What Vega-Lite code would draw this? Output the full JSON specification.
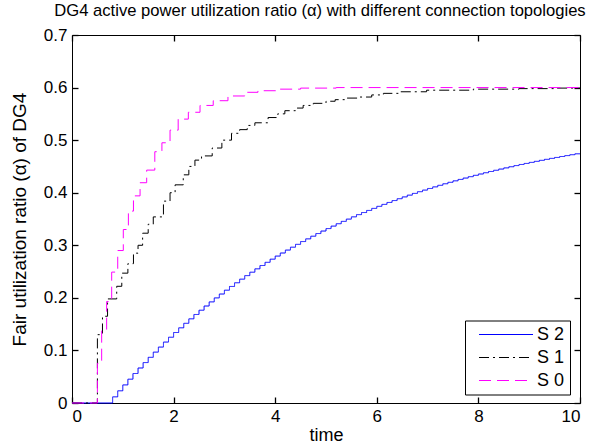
{
"$schema": "https://vega.github.io/schema/vega-lite/v6.json",
"width": 508, "height": 368,
"autosize": {"type": "none"},
"padding": {"left": 72, "top": 35, "right": 14, "bottom": 43},
"background": "white",
"config": {
  "font": "Liberation Sans",
  "view": {"stroke": "black", "strokeWidth": 1},
  "axis": {"grid": false, "domain": false, "labelColor": "black", "labelFontSize": 17, "labelFont": "Liberation Sans", "titleFont": "Liberation Sans", "titleFontSize": 18, "titleFontWeight": "normal", "titleColor": "black"}
},
"title": {"text": "DG4 active power utilization ratio (α) with different connection topologies", "fontSize": 16.6, "fontWeight": "normal", "font": "Liberation Sans", "color": "black", "anchor": "middle", "dx": -6, "offset": 6},
"data": {"values": [
{"s":"S 2","t":0,"v":0},{"s":"S 2","t":0.8,"v":0.0117},{"s":"S 2","t":0.9,"v":0.0232},{"s":"S 2","t":1.0,"v":0.0344},{"s":"S 2","t":1.1,"v":0.0453},{"s":"S 2","t":1.2,"v":0.0561},{"s":"S 2","t":1.3,"v":0.0666},{"s":"S 2","t":1.4,"v":0.0769},{"s":"S 2","t":1.5,"v":0.0869},{"s":"S 2","t":1.6,"v":0.0968},{"s":"S 2","t":1.7,"v":0.1064},
{"s":"S 2","t":1.8,"v":0.1159},{"s":"S 2","t":1.9,"v":0.1251},{"s":"S 2","t":2.0,"v":0.1341},{"s":"S 2","t":2.1,"v":0.143},{"s":"S 2","t":2.2,"v":0.1516},{"s":"S 2","t":2.3,"v":0.1601},{"s":"S 2","t":2.4,"v":0.1684},{"s":"S 2","t":2.5,"v":0.1765},{"s":"S 2","t":2.6,"v":0.1845},{"s":"S 2","t":2.7,"v":0.1923},
{"s":"S 2","t":2.8,"v":0.1999},{"s":"S 2","t":2.9,"v":0.2073},{"s":"S 2","t":3.0,"v":0.2146},{"s":"S 2","t":3.1,"v":0.2217},{"s":"S 2","t":3.2,"v":0.2287},{"s":"S 2","t":3.3,"v":0.2356},{"s":"S 2","t":3.4,"v":0.2423},{"s":"S 2","t":3.5,"v":0.2488},{"s":"S 2","t":3.6,"v":0.2552},{"s":"S 2","t":3.7,"v":0.2615},
{"s":"S 2","t":3.8,"v":0.2676},{"s":"S 2","t":3.9,"v":0.2736},{"s":"S 2","t":4.0,"v":0.2795},{"s":"S 2","t":4.1,"v":0.2853},{"s":"S 2","t":4.2,"v":0.2909},{"s":"S 2","t":4.3,"v":0.2964},{"s":"S 2","t":4.4,"v":0.3018},{"s":"S 2","t":4.5,"v":0.3071},{"s":"S 2","t":4.6,"v":0.3122},{"s":"S 2","t":4.7,"v":0.3173},
{"s":"S 2","t":4.8,"v":0.3223},{"s":"S 2","t":4.9,"v":0.3271},{"s":"S 2","t":5.0,"v":0.3318},{"s":"S 2","t":5.1,"v":0.3365},{"s":"S 2","t":5.2,"v":0.341},{"s":"S 2","t":5.3,"v":0.3455},{"s":"S 2","t":5.4,"v":0.3498},{"s":"S 2","t":5.5,"v":0.3541},{"s":"S 2","t":5.6,"v":0.3583},{"s":"S 2","t":5.7,"v":0.3623},
{"s":"S 2","t":5.8,"v":0.3663},{"s":"S 2","t":5.9,"v":0.3702},{"s":"S 2","t":6.0,"v":0.3741},{"s":"S 2","t":6.1,"v":0.3778},{"s":"S 2","t":6.2,"v":0.3815},{"s":"S 2","t":6.3,"v":0.3851},{"s":"S 2","t":6.4,"v":0.3886},{"s":"S 2","t":6.5,"v":0.392},{"s":"S 2","t":6.6,"v":0.3954},{"s":"S 2","t":6.7,"v":0.3987},
{"s":"S 2","t":6.8,"v":0.4019},{"s":"S 2","t":6.9,"v":0.405},{"s":"S 2","t":7.0,"v":0.4081},{"s":"S 2","t":7.1,"v":0.4111},{"s":"S 2","t":7.2,"v":0.4141},{"s":"S 2","t":7.3,"v":0.417},{"s":"S 2","t":7.4,"v":0.4198},{"s":"S 2","t":7.5,"v":0.4226},{"s":"S 2","t":7.6,"v":0.4253},{"s":"S 2","t":7.7,"v":0.4279},
{"s":"S 2","t":7.8,"v":0.4305},{"s":"S 2","t":7.9,"v":0.4331},{"s":"S 2","t":8.0,"v":0.4356},{"s":"S 2","t":8.1,"v":0.438},{"s":"S 2","t":8.2,"v":0.4404},{"s":"S 2","t":8.3,"v":0.4427},{"s":"S 2","t":8.4,"v":0.445},{"s":"S 2","t":8.5,"v":0.4472},{"s":"S 2","t":8.6,"v":0.4494},{"s":"S 2","t":8.7,"v":0.4516},
{"s":"S 2","t":8.8,"v":0.4537},{"s":"S 2","t":8.9,"v":0.4557},{"s":"S 2","t":9.0,"v":0.4577},{"s":"S 2","t":9.1,"v":0.4597},{"s":"S 2","t":9.2,"v":0.4616},{"s":"S 2","t":9.3,"v":0.4635},{"s":"S 2","t":9.4,"v":0.4653},{"s":"S 2","t":9.5,"v":0.4671},{"s":"S 2","t":9.6,"v":0.4689},{"s":"S 2","t":9.7,"v":0.4706},
{"s":"S 2","t":9.8,"v":0.4723},{"s":"S 2","t":9.9,"v":0.474},{"s":"S 2","t":10.0,"v":0.474},
{"s":"S 1","t":0,"v":0},{"s":"S 1","t":0.5,"v":0.13},{"s":"S 1","t":0.6,"v":0.165},{"s":"S 1","t":0.7,"v":0.198},{"s":"S 1","t":0.88,"v":0.222},{"s":"S 1","t":0.98,"v":0.247},{"s":"S 1","t":1.1,"v":0.265},{"s":"S 1","t":1.21,"v":0.285},{"s":"S 1","t":1.3,"v":0.3},{"s":"S 1","t":1.39,"v":0.323},
{"s":"S 1","t":1.5,"v":0.34},{"s":"S 1","t":1.6,"v":0.354},{"s":"S 1","t":1.8,"v":0.384},{"s":"S 1","t":1.93,"v":0.4},{"s":"S 1","t":2.03,"v":0.415},{"s":"S 1","t":2.19,"v":0.434},{"s":"S 1","t":2.3,"v":0.45},{"s":"S 1","t":2.42,"v":0.462},{"s":"S 1","t":2.55,"v":0.47},{"s":"S 1","t":2.76,"v":0.485},
{"s":"S 1","t":2.95,"v":0.5},{"s":"S 1","t":3.14,"v":0.513},{"s":"S 1","t":3.3,"v":0.52},{"s":"S 1","t":3.45,"v":0.528},{"s":"S 1","t":3.6,"v":0.533},{"s":"S 1","t":3.86,"v":0.543},{"s":"S 1","t":4.05,"v":0.55},{"s":"S 1","t":4.19,"v":0.556},{"s":"S 1","t":4.4,"v":0.561},{"s":"S 1","t":4.55,"v":0.566},
{"s":"S 1","t":4.75,"v":0.57},{"s":"S 1","t":5.0,"v":0.574},{"s":"S 1","t":5.18,"v":0.577},{"s":"S 1","t":5.4,"v":0.58},{"s":"S 1","t":5.63,"v":0.582},{"s":"S 1","t":5.9,"v":0.586},{"s":"S 1","t":6.13,"v":0.589},{"s":"S 1","t":6.45,"v":0.592},{"s":"S 1","t":6.98,"v":0.595},{"s":"S 1","t":7.9,"v":0.597},
{"s":"S 1","t":8.8,"v":0.598},{"s":"S 1","t":9.5,"v":0.599},{"s":"S 1","t":10.0,"v":0.599},
{"s":"S 0","t":0,"v":0},{"s":"S 0","t":0.5,"v":0.0755},{"s":"S 0","t":0.584,"v":0.14},{"s":"S 0","t":0.682,"v":0.193},{"s":"S 0","t":0.781,"v":0.249},{"s":"S 0","t":0.9,"v":0.29},{"s":"S 0","t":1.01,"v":0.33},{"s":"S 0","t":1.11,"v":0.365},{"s":"S 0","t":1.21,"v":0.394},{"s":"S 0","t":1.34,"v":0.419},
{"s":"S 0","t":1.47,"v":0.443},{"s":"S 0","t":1.63,"v":0.478},{"s":"S 0","t":1.77,"v":0.495},{"s":"S 0","t":1.93,"v":0.519},{"s":"S 0","t":2.09,"v":0.54},{"s":"S 0","t":2.29,"v":0.553},{"s":"S 0","t":2.52,"v":0.566},{"s":"S 0","t":2.78,"v":0.575},{"s":"S 0","t":3.07,"v":0.584},{"s":"S 0","t":3.4,"v":0.591},
{"s":"S 0","t":3.66,"v":0.594},{"s":"S 0","t":4.05,"v":0.597},{"s":"S 0","t":4.5,"v":0.599},{"s":"S 0","t":5.2,"v":0.6},{"s":"S 0","t":10.0,"v":0.6}
]},
"layer": [
  {"mark": {"type": "line", "interpolate": "step-after", "strokeWidth": 1},
   "encoding": {
     "x": {"field": "t", "type": "quantitative", "scale": {"domain": [0, 10], "nice": false, "zero": false}, "axis": {"orient": "bottom", "ticks": true, "tickSize": -6, "tickColor": "black", "tickWidth": 1.3, "title": "time", "values": [0, 2, 4, 6, 8, 10], "labelPadding": 11, "titlePadding": 2}},
     "y": {"field": "v", "type": "quantitative", "scale": {"domain": [0, 0.7], "nice": false}, "axis": {"orient": "left", "ticks": true, "tickSize": -6, "tickColor": "black", "tickWidth": 1.3, "title": "Fair utilization ratio (α) of DG4", "titleFontSize": 19, "values": [0, 0.1, 0.2, 0.3, 0.4, 0.5, 0.6, 0.7], "format": ".1~f", "labelPadding": 11, "titlePadding": 14}},
     "color": {"field": "s", "type": "nominal", "scale": {"domain": ["S 2", "S 1", "S 0"], "range": ["#0000ff", "#000000", "#ff00ff"]},
       "legend": {"orient": "none", "legendX": 393, "legendY": 285.5, "title": null, "strokeColor": "black", "fillColor": "white", "padding": 5, "columnPadding": 0, "symbolType": "M-5.4,0H5.4", "symbolSize": 100, "symbolStrokeWidth": 1, "symbolOffset": 27, "labelOffset": 22, "labelFontSize": 18, "labelFont": "Liberation Sans", "labelColor": "black", "rowPadding": 5}},
     "strokeDash": {"field": "s", "type": "nominal", "scale": {"domain": ["S 2", "S 1", "S 0"], "range": [[1, 0], [10, 4, 2, 4], [12, 6]]}}
   }},
  {"mark": {"type": "line", "opacity": 0},
   "encoding": {
     "x": {"field": "t", "type": "quantitative", "scale": {"domain": [0, 10], "nice": false, "zero": false}, "axis": {"orient": "top", "ticks": true, "tickSize": -6, "tickColor": "black", "tickWidth": 1.3, "labels": false, "title": null, "values": [0, 2, 4, 6, 8, 10]}},
     "y": {"field": "v", "type": "quantitative", "scale": {"domain": [0, 0.7], "nice": false}, "axis": {"orient": "right", "ticks": true, "tickSize": -6, "tickColor": "black", "tickWidth": 1.3, "labels": false, "title": null, "values": [0, 0.1, 0.2, 0.3, 0.4, 0.5, 0.6, 0.7]}}
   }}
],
"resolve": {"scale": {"x": "independent", "y": "independent"}, "axis": {"x": "independent", "y": "independent"}}
}
